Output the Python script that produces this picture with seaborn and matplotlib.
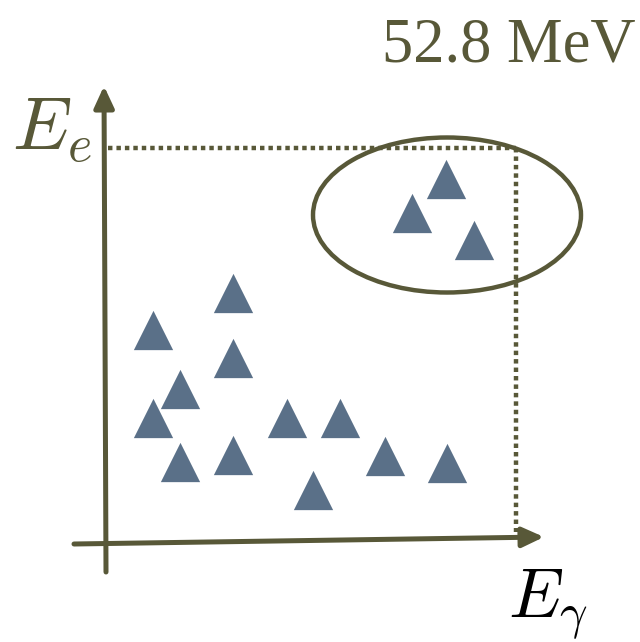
import matplotlib
matplotlib.use("Agg")
import matplotlib.pyplot as plt
import seaborn as sns
import pandas as pd
from matplotlib.patches import Ellipse

# event positions (pixel-like units, y grows downward)
tri_x = [446, 412, 474, 233, 153, 233, 180, 153, 287, 340, 180, 233, 385, 447, 313]
tri_y = [179, 213, 240, 293, 330, 358, 389, 418, 418, 418, 462, 455, 456, 463, 490]
signal_label = "52.8 MeV"
x_label = r"$E_\gamma$"
y_label = r"$E_e$"

olive = "#585838"
tri_color = "#5a7088"

df = pd.DataFrame({"x": tri_x, "y": tri_y})

sns.set_style("white")
plt.rcParams["mathtext.fontset"] = "cm"

fig = plt.figure(figsize=(6.4, 6.42), dpi=100)
ax = fig.add_axes([0, 0, 1, 1])
ax.set_xlim(0, 640)
ax.set_ylim(642, 0)
ax.axis("off")

# axes arrows
ax.annotate("", xy=(104, 86), xytext=(106, 572),
            arrowprops=dict(arrowstyle="-|>,head_length=1.3,head_width=0.6",
                            color=olive, lw=3.6, shrinkA=0, shrinkB=0))
ax.annotate("", xy=(544, 537), xytext=(74, 544),
            arrowprops=dict(arrowstyle="-|>,head_length=1.3,head_width=0.6",
                            color=olive, lw=3.6, shrinkA=0, shrinkB=0))

# dotted guide lines at the signal energy
ax.plot([108, 516], [148, 148], color=olive, lw=3.2, ls=(0, (1, 0.9)))
ax.plot([516, 516], [148, 532], color=olive, lw=3.2, ls=(0, (1, 0.9)))

# signal region
ax.add_patch(Ellipse((447, 215), 268, 155, fill=False, ec=olive, lw=3.2))

sns.scatterplot(data=df, x="x", y="y", marker="^", s=800, color=tri_color,
                linewidth=0, ax=ax, legend=False, zorder=5)

ax.text(636, 62, signal_label, ha="right", va="baseline", fontsize=45,
        family="Liberation Serif", color=olive)
ax.text(12, 150, y_label, ha="left", va="baseline", fontsize=54, color=olive)
ax.text(508, 618, x_label, ha="left", va="baseline", fontsize=50, color="black")

fig.savefig("out.png", dpi=100)
